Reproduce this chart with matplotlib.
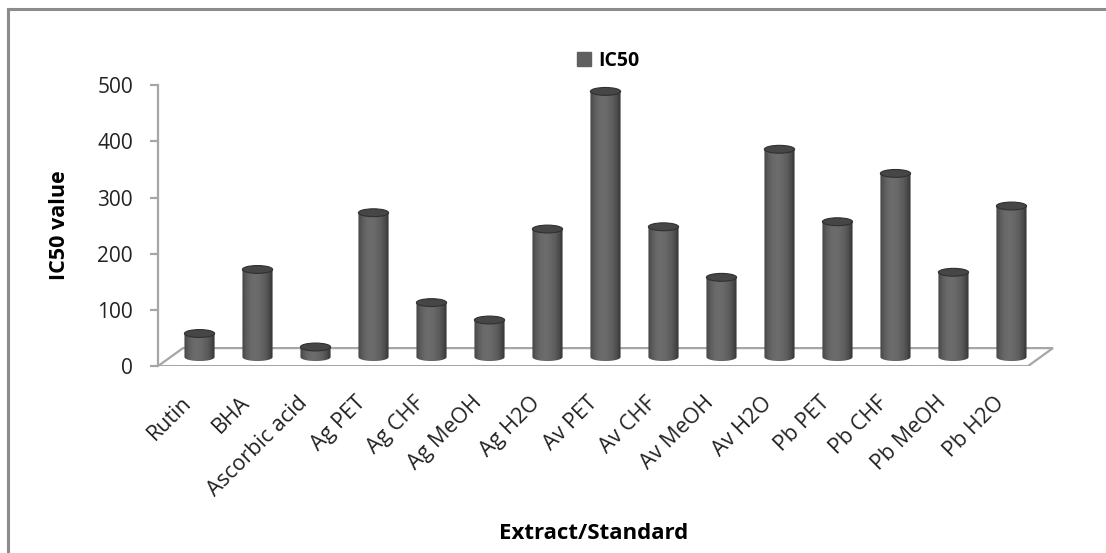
import numpy as np
import matplotlib.pyplot as plt
from matplotlib.patches import Polygon, Ellipse, Patch, PathPatch
from matplotlib.path import Path
from matplotlib.lines import Line2D

plt.rcParams['font.family'] = ['Open Sans', 'DejaVu Sans']

categories = ["Rutin", "BHA", "Ascorbic acid", "Ag PET", "Ag CHF", "Ag MeOH",
              "Ag H2O", "Av PET", "Av CHF", "Av MeOH", "Av H2O", "Pb PET",
              "Pb CHF", "Pb MeOH", "Pb H2O"]
ic50 = [42, 156, 18, 257, 97, 66, 228, 473, 232, 142, 370, 241, 327, 151, 269]

# fake 3D: depth offset of the floor in data units (x categories, y values)
DX = 0.43
DY = 32
BAR_W = 0.52
ELL_H = 14

fig = plt.figure(figsize=(11.06, 5.53), dpi=100)
ax = fig.add_axes([0.1429, 0.338, 0.8128, 0.5434])

# floor
floor = Polygon([(-0.5, 0), (14.5, 0), (14.5 + DX, DY), (-0.5 + DX, DY)],
                closed=True, facecolor='white', edgecolor='#a6a6a6', lw=1.6, zorder=1)
ax.add_patch(floor)

# horizontal shading for the cylinder bodies
shade = np.array([0.30, 0.36, 0.40, 0.42, 0.42, 0.41, 0.39, 0.36, 0.31, 0.24])
grad = np.tile(shade, (2, 1))

for i, v in enumerate(ic50):
    cx = i + DX / 2
    base = DY / 2
    top = v + DY / 2
    x0, x1 = cx - BAR_W / 2, cx + BAR_W / 2
    # body outline: rectangle closed by the lower half ellipse
    t = np.linspace(np.pi, 2 * np.pi, 40)
    bottom = [(cx + np.cos(a) * BAR_W / 2, base + np.sin(a) * ELL_H / 2) for a in t]
    verts = [(x0, top)] + bottom + [(x1, top), (x0, top)]
    body = PathPatch(Path(verts), facecolor='none', edgecolor='none', zorder=3)
    ax.add_patch(body)
    im = ax.imshow(grad, cmap='gray', vmin=0, vmax=1, aspect='auto',
                   extent=(x0, x1, base - ELL_H, top), zorder=3, interpolation='bilinear')
    im.set_clip_path(body)
    ax.add_patch(Ellipse((cx, top), BAR_W, ELL_H, facecolor='#464646',
                         edgecolor='#303030', lw=0.8, zorder=4))

ax.set_xlim(-0.5, 15.0)
ax.set_ylim(0, 535)

for side in ('top', 'right', 'bottom'):
    ax.spines[side].set_visible(False)
ax.spines['left'].set_bounds(0, 500)
ax.spines['left'].set_color('#a6a6a6')
ax.spines['left'].set_linewidth(1.6)
ax.set_yticks(np.arange(0, 501, 100))
ax.tick_params(axis='y', length=6, width=1.6, color='#a6a6a6', labelsize=15, pad=12)
ax.set_xticks(np.arange(len(categories)) - 0.1)
ax.set_xticklabels(categories, rotation=45, ha='right', rotation_mode='anchor', fontsize=15.5)
ax.tick_params(axis='x', length=0, pad=19)
for lab in ax.get_yticklabels() + ax.get_xticklabels():
    lab.set_color('#222222')

ax.set_ylabel("IC50 value", fontsize=15.5, fontweight='bold')
ax.yaxis.set_label_coords(-0.098, 0.469)
fig.text(0.537, 0.036, "Extract/Standard", fontsize=16, fontweight='bold', ha='center', va='center')

fig.legend(handles=[Patch(color='#606060', label='IC50')], loc='center',
           bbox_to_anchor=(0.55, 0.89), frameon=False,
           prop={'weight': 'bold', 'size': 14}, handlelength=0.7, handleheight=0.7,
           handletextpad=0.4)

# chart border
fig.add_artist(Line2D([0.0068, 0.0068], [0.0, 0.984], color='#8c8c8c', lw=2.2))
fig.add_artist(Line2D([0.0068, 1.0], [0.984, 0.984], color='#8c8c8c', lw=2.2))

fig.savefig("out.png", dpi=100)
